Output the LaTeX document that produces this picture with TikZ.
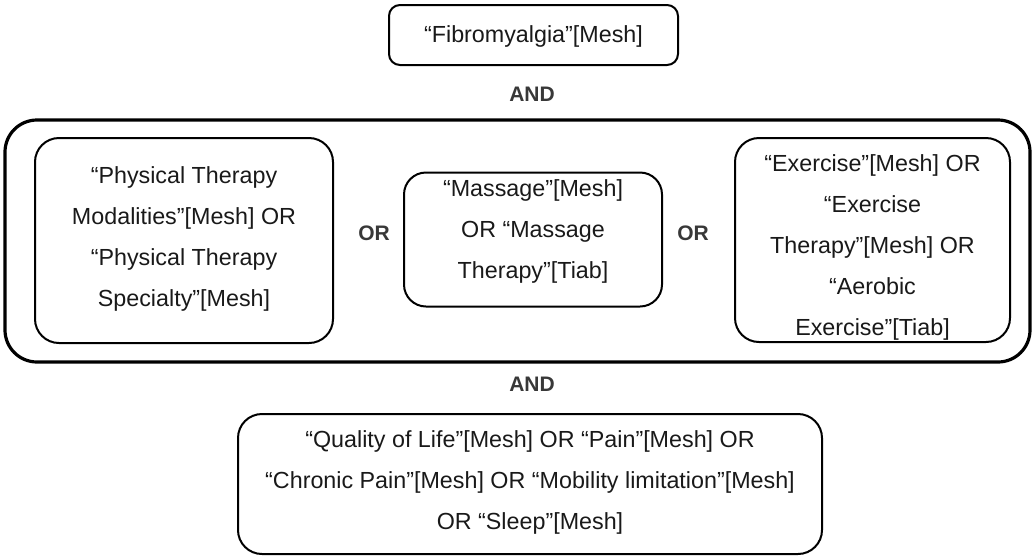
\documentclass[tikz,border=0pt]{standalone}
\usepackage{fontspec}
\setmainfont{Liberation Sans}
\begin{document}
\begin{tikzpicture}[x=1pt,y=-1pt,
  box/.style={draw=black, line width=2pt, rounded corners=24pt, inner sep=0pt},
  txt/.style={align=center, font=\fontsize{23.3}{41}\selectfont, text=black!90, inner sep=0pt},
  group/.style={draw=black, line width=3.2pt, rounded corners=32pt, inner sep=0pt},
  op/.style={font=\bfseries\fontsize{21}{24}\selectfont, text=black!78}]
\useasboundingbox (0,0) rectangle (1034,558);
\node[group, minimum width=1025pt, minimum height=242pt] (grp) at (517.5,241) {};
% top
\node[box, rounded corners=11pt, minimum width=289pt, minimum height=60pt] (fib) at (533.5,35) {};
\node[txt] (fibt) at (533.5,36) {“Fibromyalgia”[Mesh]};
\node[op] (and1) at (532,94) {AND};
% left
\node[box, minimum width=298pt, minimum height=205pt] (pt) at (184,240.5) {};
\node[txt] (ptt) at (184,239)
  {“Physical Therapy\\Modalities”[Mesh] OR\\“Physical Therapy\\Specialty”[Mesh]};
% middle
\node[box, rounded corners=22pt, minimum width=258pt, minimum height=134pt] (mas) at (533,239.5) {};
\node[txt] (mast) at (533,231.5)
  {“Massage”[Mesh]\\OR “Massage\\Therapy”[Tiab]};
% right
\node[box, minimum width=275pt, minimum height=204pt] (ex) at (872.5,240) {};
\node[txt] (ext) at (872.5,247)
  {“Exercise”[Mesh] OR\\“Exercise\\Therapy”[Mesh] OR\\“Aerobic\\Exercise”[Tiab]};
\node[op] (or1) at (374,233) {OR};
\node[op] (or2) at (693,233) {OR};
\node[op] (and2) at (532,384) {AND};
% bottom
\node[box, minimum width=584pt, minimum height=140pt] (out) at (530,484) {};
\node[txt] (outt) at (530,482)
  {“Quality of Life”[Mesh] OR “Pain”[Mesh] OR\\“Chronic Pain”[Mesh] OR “Mobility limitation”[Mesh]\\OR “Sleep”[Mesh]};
\end{tikzpicture}
\end{document}
